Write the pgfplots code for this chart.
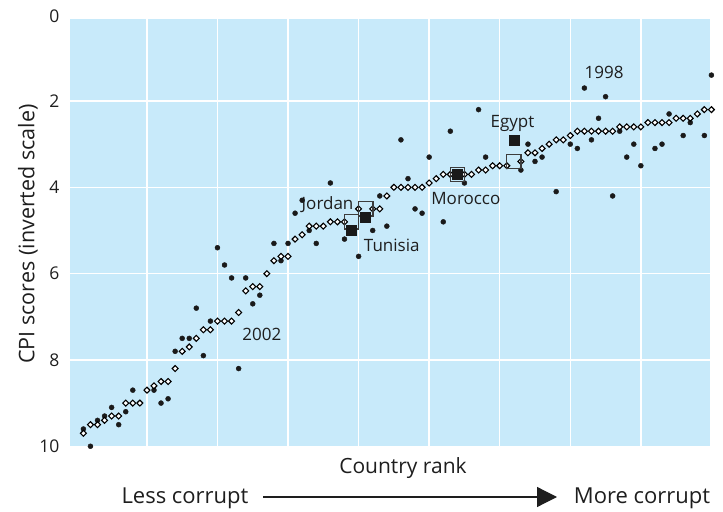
\documentclass[border=0pt]{standalone}
\usepackage{fontspec}
\setmainfont{Open Sans}
\usepackage{pgfplots}
\pgfplotsset{compat=1.18}
\usetikzlibrary{arrows.meta}
\definecolor{bluebg}{RGB}{200,234,250}
\definecolor{dotc}{RGB}{26,26,26}
\definecolor{sqedge}{RGB}{60,60,60}
\definecolor{txt}{RGB}{30,30,30}
\newcommand{\lf}{\fontsize{17bp}{20bp}\selectfont}
\begin{document}
\begin{tikzpicture}
\useasboundingbox (0,0) rectangle (723bp,512bp);
\begin{axis}[
  at={(70bp,65.75bp)}, anchor=south west,
  scale only axis, width=640bp, height=427.25bp,
  xmin=-0.9, xmax=89.8, ymin=0.1, ymax=10, y dir=reverse,
  axis background/.style={fill=bluebg},
  axis line style={draw=none},
  tick style={draw=none},
  xtick={10,20,...,80}, xticklabels={},
  ytick={2,4,6,8,10},
  extra y ticks={0.1}, extra y tick labels={0},
  extra y tick style={grid=none, yticklabel style={yshift=3bp}},
  grid=major, major grid style={white, line width=1.5bp},
  yticklabel style={font=\fontsize{17.5bp}{20bp}\selectfont, text=txt, xshift=-7bp},
  /pgf/number format/assume math mode=true,
  clip=false,
]
% 1998 scores (dots)
\addplot[only marks, mark=*, mark size=2.5bp, mark options={draw=dotc, fill=dotc}] coordinates {
(1,9.6)(2,10.0)(3,9.4)(4,9.3)(5,9.1)(6,9.5)(7,9.2)(8,8.7)(9,9.0)(10,8.7)
(11,8.7)(12,9.0)(13,8.9)(14,7.8)(15,7.5)(16,7.5)(17,6.8)(18,7.9)(19,7.1)(20,5.4)
(21,5.8)(22,6.1)(23,8.2)(24,6.1)(25,6.7)(26,6.5)(28,5.3)(29,5.7)(30,5.3)
(31,4.6)(32,4.3)(33,5.0)(34,5.3)(36,3.9)(38,5.2)(40,5.6)
(42,5.0)(43,4.2)(44,4.9)(45,4.0)(46,2.9)(47,3.8)(48,4.5)(49,4.6)(50,3.3)
(52,4.8)(53,2.7)(55,3.9)(57,2.2)(58,3.3)(59,3.5)
(63,3.6)(64,3.0)(65,3.4)(66,3.3)(68,4.1)(70,3.0)
(71,3.1)(72,1.7)(73,2.9)(74,2.4)(75,1.9)(76,4.2)(77,2.7)(78,3.3)(79,3.0)(80,3.5)
(82,3.1)(83,3.0)(84,2.3)(86,2.8)(87,2.5)(89,2.8)(90,1.4)
};
% 2002 scores (diamonds)
\addplot[only marks, mark=square*, mark size=2.1bp, mark options={rotate=45, draw=black, fill=white, line width=1.1bp}] coordinates {
(1,9.7)(2,9.5)(3,9.5)(4,9.4)(5,9.3)(6,9.3)(7,9.0)(8,9.0)(9,9.0)(10,8.7)
(11,8.6)(12,8.5)(13,8.5)(14,8.2)(15,7.8)(16,7.7)(17,7.5)(18,7.3)(19,7.3)(20,7.1)
(21,7.1)(22,7.1)(23,6.9)(24,6.4)(25,6.3)(26,6.3)(27,6.0)(28,5.7)(29,5.6)(30,5.6)
(31,5.2)(32,5.1)(33,4.9)(34,4.9)(35,4.9)(36,4.8)(37,4.8)(38,4.8)(40,4.5)
(42,4.5)(43,4.5)(44,4.2)(45,4.0)(46,4.0)(47,4.0)(48,4.0)(49,4.0)(50,3.9)
(51,3.8)(52,3.7)(53,3.7)(55,3.7)(56,3.7)(57,3.6)(58,3.6)(59,3.5)(60,3.5)
(61,3.5)(63,3.4)(64,3.2)(65,3.2)(66,3.1)(67,3.0)(68,2.9)(69,2.9)(70,2.8)
(71,2.7)(72,2.7)(73,2.7)(74,2.7)(75,2.7)(76,2.7)(77,2.6)(78,2.6)(79,2.6)(80,2.6)
(81,2.5)(82,2.5)(83,2.5)(84,2.5)(85,2.4)(86,2.4)(87,2.4)(88,2.3)(89,2.2)(90,2.2)
};
% highlighted countries, 2002 (open squares)
\addplot[only marks, mark=square, mark size=7.2bp, mark options={draw=sqedge, line width=1.3bp}] coordinates {
(39,4.8)(41,4.5)(54,3.7)(62,3.4)
};
% highlighted countries, 1998 (filled squares)
\addplot[only marks, mark=square*, mark size=5bp, mark options={draw=dotc, fill=dotc, line width=0.4bp}] coordinates {
(39,5.0)(41,4.7)(54,3.7)(62,2.9)
};
\node[font=\lf, text=txt] at (axis cs:26.3,7.42) {2002};
\node[font=\lf, text=txt] at (axis cs:74.8,1.33) {1998};
\node[font=\lf, text=txt] at (axis cs:35.6,4.41) {Jordan};
\node[font=\lf, text=txt] at (axis cs:44.7,5.35) {Tunisia};
\node[font=\lf, text=txt] at (axis cs:55.2,4.27) {Morocco};
\node[font=\lf, text=txt] at (axis cs:61.8,2.52) {Egypt};
\end{axis}
\node[rotate=90, font=\fontsize{21.5bp}{24bp}\selectfont, text=txt] at (28bp,278bp) {CPI scores (inverted scale)};
\node[font=\fontsize{21bp}{24bp}\selectfont, text=txt] at (403bp,44bp) {Country rank};
\node[font=\fontsize{22bp}{25bp}\selectfont, text=txt] at (185bp,14bp) {Less corrupt};
\node[font=\fontsize{22bp}{25bp}\selectfont, text=txt] at (642bp,14bp) {More corrupt};
\draw[line width=1.2bp, txt, -{Triangle[length=20bp,width=20bp]}] (263bp,15bp) -- (557bp,15bp);
\end{tikzpicture}
\end{document}
